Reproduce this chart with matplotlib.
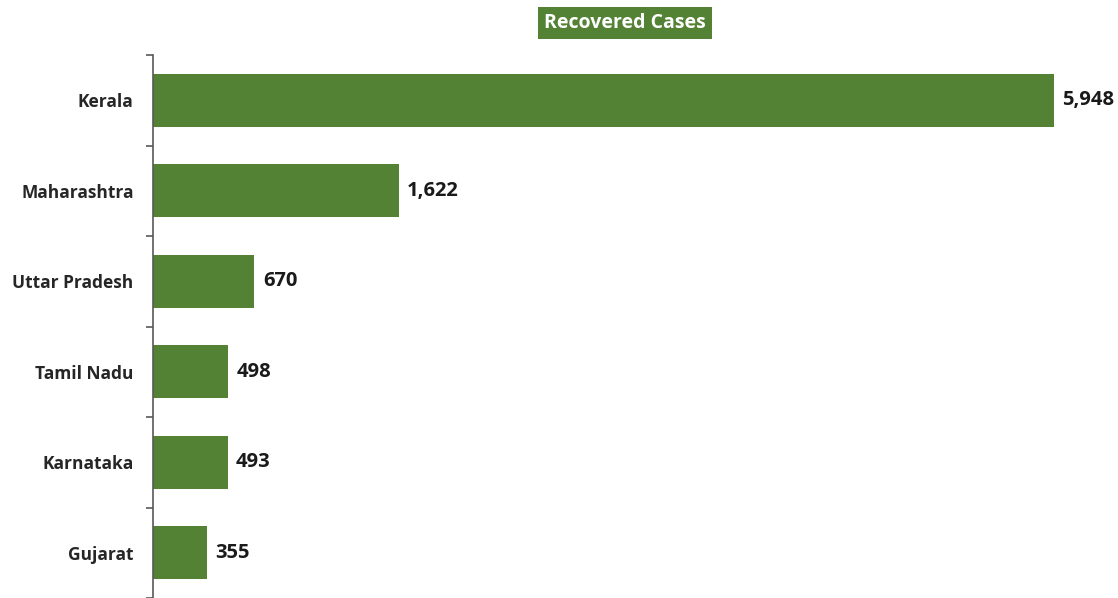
import matplotlib
matplotlib.use("Agg")
import matplotlib.pyplot as plt

states = ["Kerala", "Maharashtra", "Uttar Pradesh", "Tamil Nadu", "Karnataka", "Gujarat"]
recovered = [5948, 1622, 670, 498, 493, 355]
title = "Recovered Cases"

bar_color = "#548235"
W, H = 1118, 598
fig = plt.figure(figsize=(W / 100, H / 100), dpi=100)
fig.patch.set_facecolor("white")

left_px, top_px = 153, 55
ax = fig.add_axes([left_px / W, 0, (W - left_px) / W, (H - top_px) / H])
ypos = list(range(len(states)))
ax.barh(ypos, recovered, height=0.59, color=bar_color, zorder=2)
ax.set_ylim(len(states) - 0.5, -0.5)
ax.set_xlim(0, 5948 * (W - left_px) / (1054 - left_px))

for y, v in zip(ypos, recovered):
    ax.annotate(f"{v:,}", (v, y), xytext=(6, 0), textcoords="offset points",
                ha="left", va="center", fontsize=14.5, fontweight="bold",
                color="#1a1a1a", family="Open Sans")

ax.set_yticks(ypos)
ax.set_yticklabels(states, fontsize=12.5, fontweight="bold", color="#262626", family="Open Sans")
ax.tick_params(axis="y", which="major", length=0, pad=14)
ax.set_yticks([i - 0.5 for i in range(len(states) + 1)], minor=True)
ax.tick_params(axis="y", which="minor", length=5, width=1.2, color="#595959")
ax.set_xticks([])
for s in ["top", "right", "bottom"]:
    ax.spines[s].set_visible(False)
ax.spines["left"].set_color("#595959")
ax.spines["left"].set_linewidth(1.2)
ax.set_facecolor("white")

fig.text(625 / W, 1 - 23 / H, title, ha="center", va="center", fontsize=14,
         fontweight="bold", color="white", family="Open Sans",
         bbox=dict(boxstyle="square,pad=0.3", facecolor=bar_color, edgecolor="none"))

fig.savefig("out.png", dpi=100)
